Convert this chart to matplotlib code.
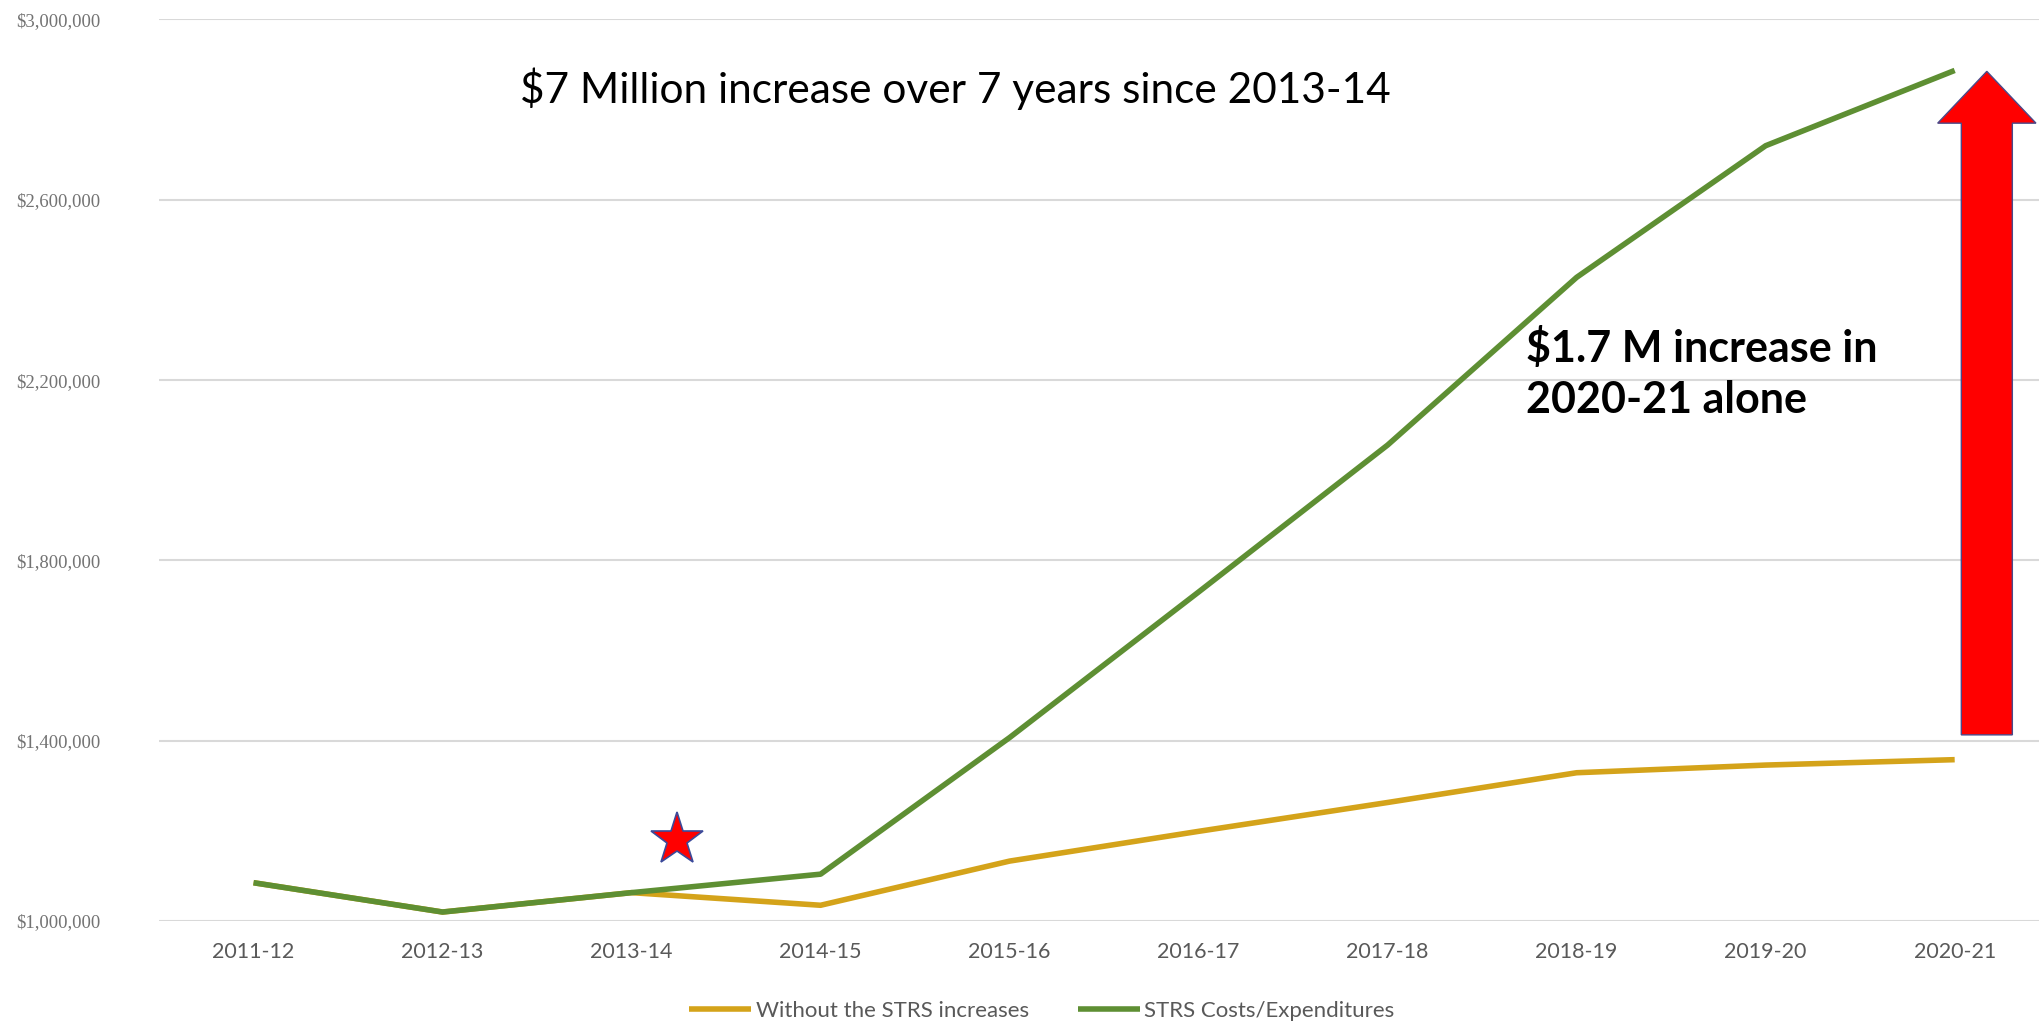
import numpy as np
import matplotlib
matplotlib.use("Agg")
import matplotlib.pyplot as plt
from matplotlib.patches import FancyArrow

# values
years = ["2011-12", "2012-13", "2013-14", "2014-15", "2015-16",
         "2016-17", "2017-18", "2018-19", "2019-20", "2020-21"]
strs_costs = [1085000, 1020000, 1063000, 1104000, 1407000,
              1730000, 2056000, 2428000, 2720000, 2887000]
without_strs = [1085000, 1020000, 1063000, 1035000, 1133000,
                1199000, 1263000, 1329000, 1346000, 1358000]
yticks = [1000000, 1400000, 1800000, 2200000, 2600000, 3000000]

green = '#5E8F33'
gold = '#D4A31A'

fig = plt.figure(figsize=(20.39, 10.26), dpi=100)
ax = fig.add_axes([0.078, 0.1023, 0.927, 0.8787])

x = np.arange(len(years))
ax.plot(x, without_strs, color=gold, lw=4, solid_capstyle='butt',
        label='Without the STRS increases', zorder=3)
ax.plot(x, strs_costs, color=green, lw=4, solid_capstyle='butt',
        label='STRS Costs/Expenditures', zorder=4)

ax.set_xlim(-0.5, 9.5)
ax.set_ylim(1000000, 3000000)
ax.set_xticks(x)
ax.set_xticklabels(years, fontfamily='Lato', fontsize=15.5, color='#595959')
ax.set_yticks(yticks)
ax.set_yticklabels(['${:,}'.format(v) for v in yticks],
                   fontfamily='Liberation Serif', fontsize=13.5, color='#737373')
ax.tick_params(axis='both', length=0)
ax.tick_params(axis='y', pad=42)
ax.tick_params(axis='x', pad=15)
ax.grid(axis='y', color='#D9D9D9', lw=1.5)
ax.set_axisbelow(True)
for s in ax.spines.values():
    s.set_visible(False)

# star marker
ax.plot([2.24], [1179000], marker='*', markersize=40, color='#FF0000',
        markeredgecolor='#3B4A9A', markeredgewidth=1.2, zorder=5, clip_on=False)

# red arrow
arr = FancyArrow(9.17, 1413000, 0, 2885000 - 1413000, width=0.27,
                 head_width=0.52, head_length=115000,
                 length_includes_head=True, facecolor='#FF0000',
                 edgecolor='#4A4A8A', lw=1.0, zorder=5, clip_on=False)
ax.add_patch(arr)

ax.text(1.41, 2847000, "$7 Million increase over 7 years since 2013-14",
        fontfamily='Lato', fontsize=30.5, color='black', va='center', ha='left')
ax.text(6.73, 2215000, "$1.7 M increase in\n2020-21 alone",
        fontfamily='Lato', fontweight='bold', fontsize=31, color='black',
        va='center', ha='left', linespacing=1.32)

leg = ax.legend(loc='center', bbox_to_anchor=(0.467, -0.1),
                ncol=2, frameon=False, handlelength=2.8, handletextpad=0.2,
                columnspacing=2.2, prop={'family': 'Lato', 'size': 16})
for t in leg.get_texts():
    t.set_color('#595959')

fig.savefig('out.png', dpi=100)
